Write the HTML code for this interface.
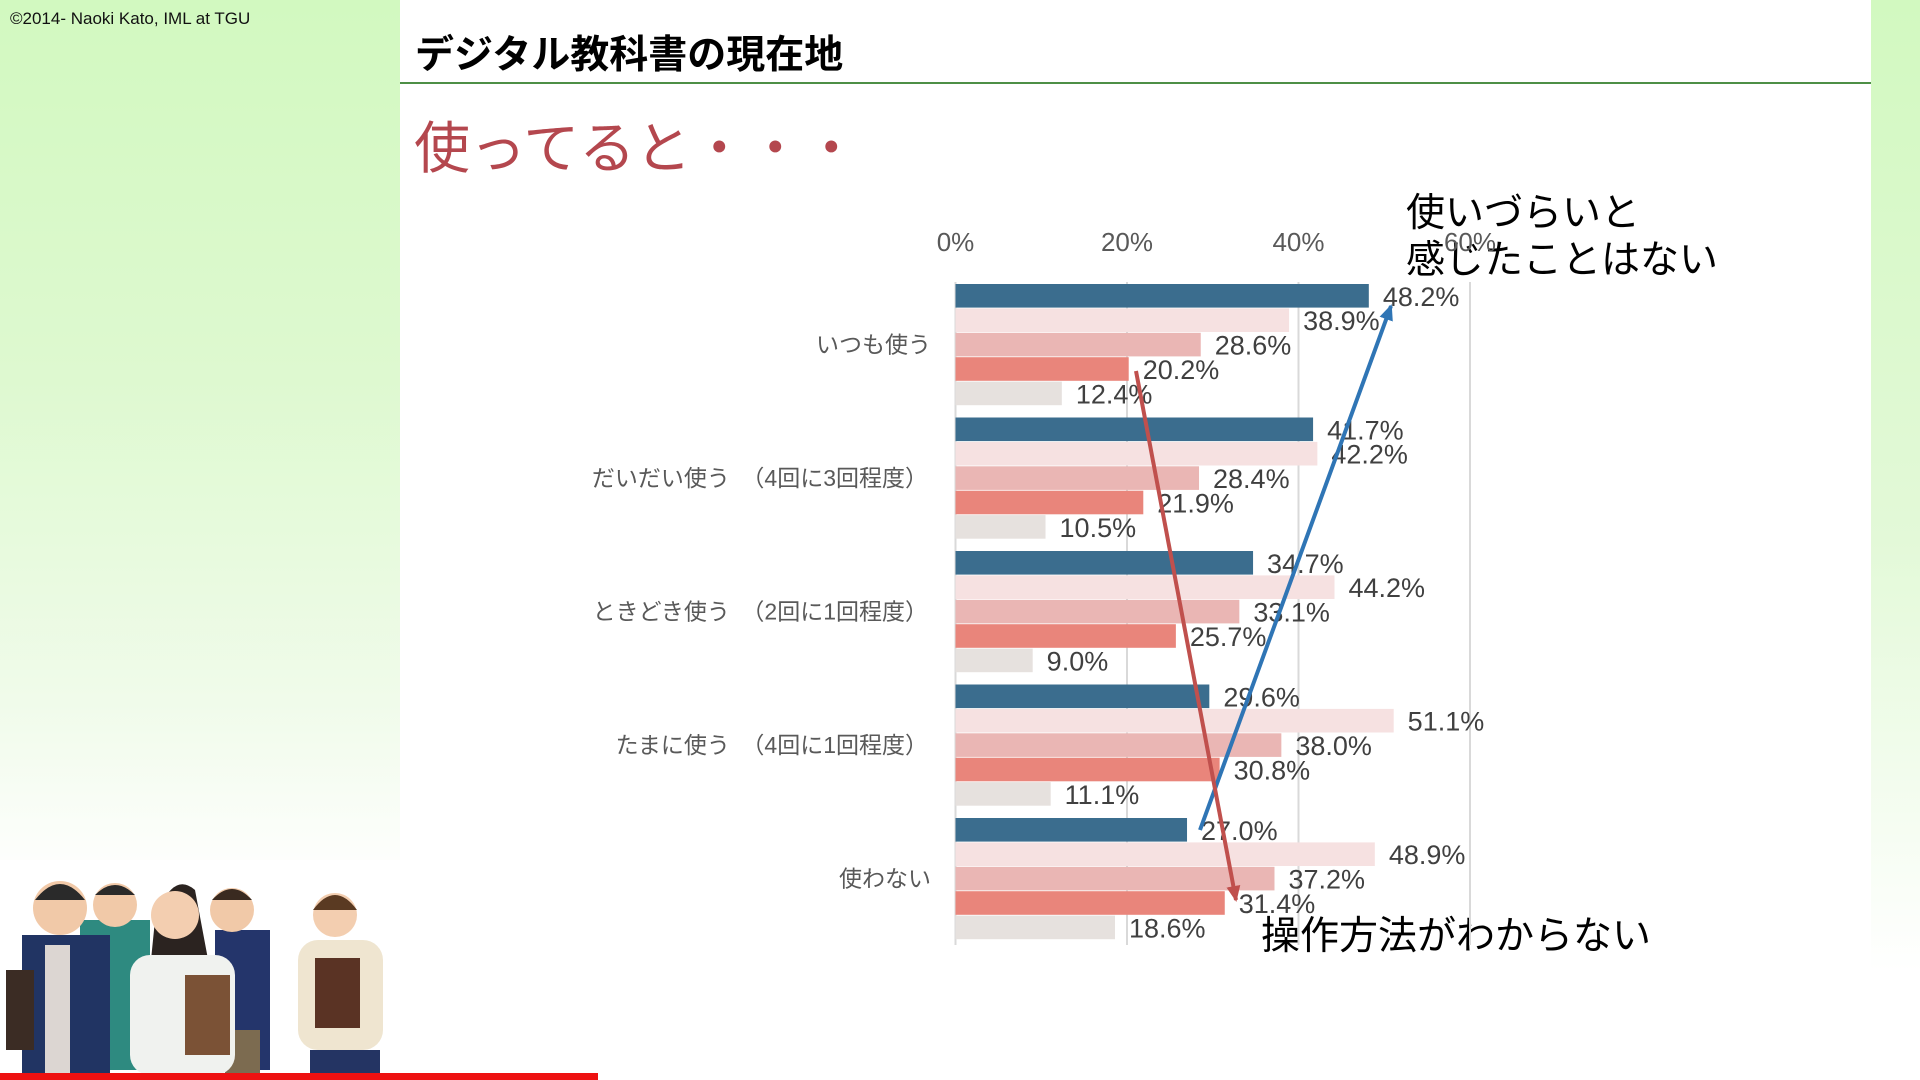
<!DOCTYPE html>
<html><head><meta charset="utf-8">
<style>
html,body{margin:0;padding:0;}
body{width:1920px;height:1080px;position:relative;overflow:hidden;background:#fff;font-family:"Liberation Sans","Noto Sans CJK JP",sans-serif;}
#left{position:absolute;left:0;top:0;width:400px;height:1080px;background:linear-gradient(180deg,#d2f9c0 0%,#def9d0 35%,#f0fbea 65%,#ffffff 82%);}
#right{position:absolute;left:1871px;top:0;width:49px;height:1080px;background:linear-gradient(180deg,#d2f9c0 0%,#e3f9d8 50%,#ffffff 90%);}
.abs{position:absolute;white-space:nowrap;}
</style></head><body>
<div id="left"></div>
<div id="right"></div>
<div class="abs" style="left:10px;top:9px;font-size:17px;color:#111;">©2014- Naoki Kato, IML at TGU</div>
<div class="abs" style="left:415px;top:24px;font-size:39px;font-weight:bold;color:#000;">デジタル教科書の現在地</div>
<div class="abs" style="left:400px;top:82px;width:1471px;height:2px;background:#4e8f46;"></div>
<div class="abs" style="left:414px;top:104px;font-size:56px;color:#b4474e;letter-spacing:0px;">使ってると・・・</div>
<div class="abs" style="left:1406px;top:190px;font-size:39px;line-height:47px;color:#000;">使いづらいと<br>感じたことはない</div>
<div class="abs" style="left:1261px;top:905px;font-size:39px;color:#000;">操作方法がわからない</div>

<svg id="chart" width="1920" height="1080" style="position:absolute;left:0;top:0;" xmlns="http://www.w3.org/2000/svg"></svg>

<svg width="400" height="215" style="position:absolute;left:0;top:860px;" xmlns="http://www.w3.org/2000/svg">
<rect x="0" y="0" width="400" height="215" fill="#fff"/>
<rect x="80" y="60" width="70" height="150" fill="#2e8a80"/><circle cx="115" cy="45" r="22" fill="#f1c9a8"/><path d="M95 35 Q115 15 135 35 Z" fill="#2a2a2a"/>
<rect x="215" y="70" width="55" height="140" fill="#24356b"/><circle cx="232" cy="50" r="22" fill="#f1c9a8"/><path d="M212 40 Q232 18 252 40 Z" fill="#3a2a20"/>
<rect x="225" y="170" width="35" height="45" fill="#7c6b50"/>
<rect x="22" y="75" width="88" height="140" fill="#213463"/><rect x="45" y="85" width="25" height="130" fill="#dcd6d2"/><circle cx="60" cy="48" r="27" fill="#f1c9a8"/><path d="M35 40 Q60 8 85 40 Z" fill="#2a2a2a"/>
<rect x="6" y="110" width="28" height="80" fill="#3b2c24"/>
<path d="M155 60 Q172 10 195 30 L210 110 L150 110 Z" fill="#2b2320"/>
<rect x="130" y="95" width="105" height="120" rx="20" fill="#f0f2ef"/><circle cx="175" cy="55" r="24" fill="#f3ceb0"/>
<rect x="185" y="115" width="45" height="80" fill="#7b5236"/>
<rect x="298" y="80" width="85" height="110" rx="20" fill="#efe5d0"/><rect x="310" y="190" width="70" height="25" fill="#243463"/><circle cx="335" cy="55" r="22" fill="#f3ceb0"/><path d="M313 50 Q335 20 357 50 Z" fill="#5a3a22"/>
<rect x="315" y="98" width="45" height="70" fill="#5a3324"/>
</svg>
<div class="abs" style="left:0;top:1073px;width:598px;height:7px;background:#ee1111;"></div>

<script>
const categories = ["いつも使う","だいだい使う　（4回に3回程度）","ときどき使う　（2回に1回程度）","たまに使う　（4回に1回程度）","使わない"];
const seriesA = [48.2, 41.7, 34.7, 29.6, 27.0];
const seriesB = [38.9, 42.2, 44.2, 51.1, 48.9];
const seriesC = [28.6, 28.4, 33.1, 38.0, 37.2];
const seriesD = [20.2, 21.9, 25.7, 30.8, 31.4];
const seriesE = [12.4, 10.5, 9.0, 11.1, 18.6];
const tickValues = [0, 20, 40, 60];
const tickLabels = ["0%","20%","40%","60%"];

const NS = "http://www.w3.org/2000/svg";
const svg = document.getElementById('chart');
const x0 = 955.5, pxPer = 8.575;
const groupTop = 284, groupStep = 133.5, barStep = 24.4, barH = 23.6;
const FONT = '"Liberation Sans","Noto Sans CJK JP",sans-serif';
function xScale(v){ return x0 + v * pxPer; }
function yBar(gi, si){ return groupTop + gi * groupStep + si * barStep; }
function mk(tag, attrs){ const e = document.createElementNS(NS, tag); for (const k in attrs) e.setAttribute(k, attrs[k]); svg.appendChild(e); return e; }

tickValues.forEach((t, i) => {
  const g = mk('line', {x1: xScale(t), x2: xScale(t), y1: 282, y2: 945, stroke: '#d9d9d9', 'stroke-width': 2});
  
  
  const tx = mk('text', {x: xScale(t), y: 251, 'text-anchor': 'middle', 'font-size': 26, fill: '#595959', 'font-family': FONT});
  tx.textContent = tickLabels[i];
  
  
});

const series = [seriesA, seriesB, seriesC, seriesD, seriesE];
const colors = ['#3b6d8e', '#f6e1e1', '#eab6b4', '#e9857b', '#e6e1de'];
categories.forEach((c, gi) => {
  const cy = yBar(gi, 2) + barH / 2;
  const lab = mk('text', {x: gi === 0 || gi === 4 ? 931 : 928, y: cy + 8, 'text-anchor': 'end', 'font-size': 23, fill: '#595959', 'font-family': FONT});
  lab.textContent = c;
  
  
  series.forEach((s, si) => {
    const y = yBar(gi, si);
    const r = mk('rect', {x: x0, y: y, width: xScale(s[gi]) - x0, height: barH, fill: colors[si]});
    
    
    const v = mk('text', {x: xScale(s[gi]) + 14, y: y + barH / 2 + 10, 'font-size': 27, fill: '#404040', 'font-family': FONT});
    v.textContent = s[gi].toFixed(1) + '%';
    
    
  });
});

const defs = mk('defs', {});
defs.innerHTML = '<marker id="ab" markerUnits="userSpaceOnUse" markerWidth="18" markerHeight="18" refX="14" refY="9" orient="auto"><path d="M0,2 L16,9 L0,16 z" fill="#2f75b5"/></marker><marker id="ar" markerUnits="userSpaceOnUse" markerWidth="18" markerHeight="18" refX="14" refY="9" orient="auto"><path d="M0,2 L16,9 L0,16 z" fill="#c0504d"/></marker>';
const a1 = mk('line', {x1: 1200, y1: 830, x2: 1391, y2: 306, stroke: '#2f75b5', 'stroke-width': 4, 'marker-end': 'url(#ab)'});


const a2 = mk('line', {x1: 1136, y1: 371, x2: 1236, y2: 900, stroke: '#c0504d', 'stroke-width': 4, 'marker-end': 'url(#ar)'});


</script>
</body></html>
